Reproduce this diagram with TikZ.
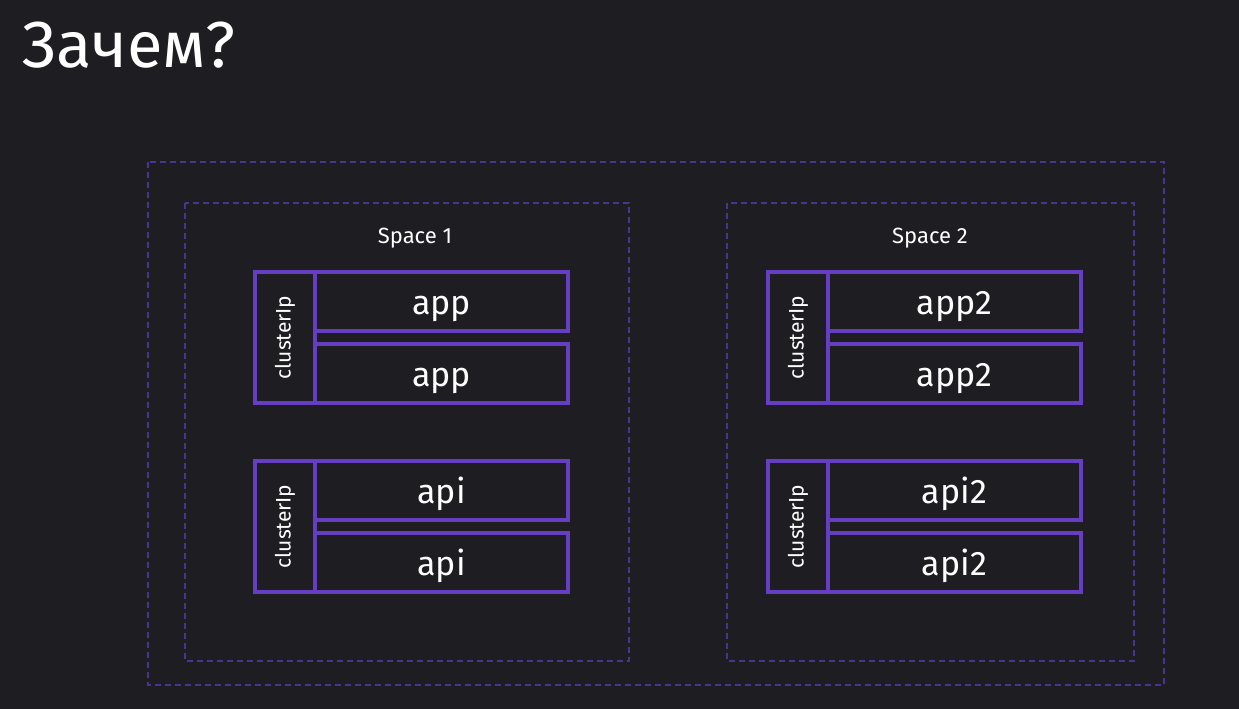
\documentclass[tikz,border=0pt]{standalone}
\usepackage{fontspec}
\setmainfont{Fira Sans}
\definecolor{bg}{RGB}{30,29,33}
\definecolor{dashpurple}{RGB}{74,52,146}
\definecolor{boxpurple}{RGB}{102,62,196}
\begin{document}
\begin{tikzpicture}[x=1pt, y=-1pt,
  space/.style={draw=dashpurple, line width=1.3pt, dash pattern=on 6pt off 4pt},
  pod/.style={draw=boxpurple, line width=3.5pt, minimum width=253pt, minimum height=59pt,
    inner sep=0pt, text height=25pt, text depth=0pt, text=white, font=\fontsize{34}{34}\selectfont},
  cip/.style={draw=boxpurple, line width=3.5pt, minimum width=60pt, minimum height=131pt, inner sep=0pt},
  lbl/.style={text=white, font=\fontsize{22}{22}\selectfont}]
  \fill[bg] (0,0) rectangle (1239,709);
  \node[anchor=base west, inner sep=0pt, text=white, font=\fontsize{65}{65}\selectfont] (title) at (22,67) {Зачем?};
  % spaces
  \draw[space] (148,162) rectangle (1164,685);
  \draw[space] (185,203) rectangle (629,661);
  \draw[space] (727,203) rectangle (1134,661);
  \node[lbl, anchor=base] (space1) at (415,243) {Space 1};
  \node[lbl, anchor=base] (space2) at (930,243) {Space 2};
  % services
  \foreach \sx/\sn/\a/\b in {0/1/app/api, 513/2/app2/api2}{
    \foreach \gy/\g in {0/\a, 189/\b}{
      \node[cip] (cip-\sn-\gy) at (285+\sx, 337.5+\gy) {};
      \node[lbl, rotate=90, font=\fontsize{21}{21}\selectfont] at (cip-\sn-\gy) {clusterIp};
      \node[pod] (pod-\sn-\gy-a) at (441.5+\sx, 301.5+\gy) {\g};
      \node[pod] (pod-\sn-\gy-b) at (441.5+\sx, 373.5+\gy) {\g};
    }
  }
\end{tikzpicture}
\end{document}
